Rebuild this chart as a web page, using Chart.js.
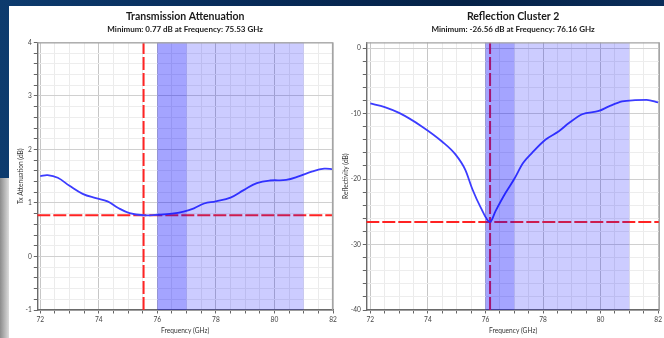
<!DOCTYPE html>
<html><head><meta charset="utf-8">
<script src="https://cdn.jsdelivr.net/npm/chart.js@4.4.1/dist/chart.umd.min.js"></script>
<style>
html,body{margin:0;padding:0;}
body{width:664px;height:338px;overflow:hidden;position:relative;background:linear-gradient(90deg,#0d3b6e 0%,#072a57 40%,#052247 70%,#0a2d5a 100%);}
#strip{position:absolute;left:0;top:178px;width:9px;height:160px;background:linear-gradient(90deg,#8c8c8c,#dcdcdc);}
#panel{position:absolute;left:9px;top:6px;width:655px;height:332px;background:#fff;}
#c1{position:absolute;left:9px;top:6px;}
#c2{position:absolute;left:340px;top:6px;}
</style></head>
<body>
<div id="strip"></div>
<div id="panel"></div>
<canvas id="c1" width="331" height="332"></canvas>
<canvas id="c2" width="324" height="332"></canvas>
<script>
// ---- data ----
const txFreq = [72.0, 72.25, 72.6, 73.0, 73.45, 73.9, 74.3, 74.65, 75.05, 75.53, 76.0, 76.5, 76.9, 77.25, 77.6, 78.0, 78.5, 78.95, 79.4, 79.85, 80.4, 80.85, 81.3, 81.7, 82.0];
const txVal  = [1.50, 1.52, 1.47, 1.32, 1.17, 1.09, 1.03, 0.91, 0.81, 0.77, 0.78, 0.80, 0.84, 0.90, 0.99, 1.03, 1.10, 1.24, 1.37, 1.42, 1.43, 1.50, 1.59, 1.64, 1.63];
const rcFreq = [72.0, 72.5, 73.0, 73.8, 74.5, 74.95, 75.3, 75.55, 75.82, 76.16, 76.35, 76.7, 77.0, 77.3, 77.62, 78.08, 78.55, 78.9, 79.36, 79.94, 80.29, 80.75, 81.2, 81.6, 82.0];
const rcVal  = [-8.46, -9.0, -9.9, -12.0, -14.3, -16.2, -18.6, -21.6, -24.2, -26.56, -24.9, -22.1, -20.0, -17.6, -16.0, -14.0, -12.7, -11.45, -10.1, -9.6, -8.9, -8.15, -7.95, -7.9, -8.3];
const txMinVal = 0.77, txMinFreq = 75.53;
const rcMinVal = -26.56, rcMinFreq = 76.16;
const bandStart = [76, 76];
const bandEnd   = [77, 81];
const xTickLabels = [72, 74, 76, 78, 80, 82];
const txTickLabels = [-1, 0, 1, 2, 3, 4];
const rcTickLabels = [-40, -30, -20, -10, 0];

const FONT = "Lato, 'Open Sans', sans-serif";

function range(a, b, step) {
  const out = [];
  for (let i = 0; a + i * step <= b + 1e-9; i++) out.push(Math.round((a + i * step) * 100) / 100);
  return out;
}

const overlay = {
  id: 'overlay',
  afterDatasetsDraw(chart) {
    const {ctx, chartArea: a, scales: {x}} = chart;
    ctx.save();
    ctx.beginPath(); ctx.rect(a.left, a.top, a.right - a.left, a.bottom - a.top); ctx.clip();
    ctx.fillStyle = 'rgba(0,0,255,0.2)';
    for (let i = 0; i < bandStart.length; i++) {
      const x0 = x.getPixelForValue(bandStart[i]), x1 = x.getPixelForValue(bandEnd[i]);
      ctx.fillRect(x0, a.top, x1 - x0, a.bottom - a.top);
    }
    ctx.restore();
    ctx.save();
    ctx.strokeStyle = '#a4a4a4'; ctx.lineWidth = 1.2;
    ctx.beginPath();
    ctx.moveTo(a.left, a.top + 0.5); ctx.lineTo(a.right - 0.5, a.top + 0.5); ctx.lineTo(a.right - 0.5, a.bottom);
    ctx.stroke();
    ctx.restore();
  }
};

function makeChart(el, cfg) {
  const xMajor = xTickLabels;
  const yMajor = cfg.yLabels;
  const curve = { data: cfg.fx.map((f, i) => ({x: f, y: cfg.fy[i]})), showLine: true, borderColor: '#3c3cff', borderWidth: 1.8,
          pointRadius: 0, fill: false };
  if (cfg.mono) curve.cubicInterpolationMode = 'monotone'; else curve.tension = 0.4;
  return new Chart(el, {
    type: 'scatter',
    data: {
      datasets: [
        curve,
        { data: [{x: cfg.minF, y: cfg.yMin}, {x: cfg.minF, y: cfg.yMax}], showLine: true, borderColor: '#ff2323',
          borderWidth: 2, borderDash: [13, 3], pointRadius: 0, fill: false },
        { data: [{x: cfg.xMin, y: cfg.minV}, {x: cfg.xMax, y: cfg.minV}], showLine: true, borderColor: '#ff2323',
          borderWidth: 2, borderDash: [13, 3], pointRadius: 0, fill: false }
      ]
    },
    options: {
      responsive: false, animation: false, devicePixelRatio: 1,
      layout: { padding: { left: 0, right: cfg.padR, top: 0, bottom: 0 } },
      plugins: {
        legend: { display: false }, tooltip: { enabled: false },
        title: { display: true, text: cfg.title, fullSize: false, color: '#1a1a1a',
          font: { family: FONT, size: 10.5, weight: 'bold', lineHeight: 1.2 }, padding: { top: 4, bottom: 1 } },
        subtitle: { display: true, text: `Minimum: ${cfg.minV.toFixed(2)} dB at Frequency: ${cfg.minF.toFixed(2)} GHz`,
          fullSize: false, color: '#1a1a1a',
          font: { family: FONT, size: 8, weight: 'bold', lineHeight: 1.2 }, padding: { top: 0.6, bottom: 8.6 } }
      },
      scales: {
        x: {
          type: 'linear', min: cfg.xMin, max: cfg.xMax,
          afterBuildTicks: s => { s.ticks = range(72, 82, 0.5).map(v => ({value: v})); },
          afterFit: s => { s.height = 28; },
          ticks: { autoSkip: false, maxRotation: 0, padding: 2, color: '#444',
            font: { family: FONT, size: 6.6 },
            callback: v => xMajor.includes(v) ? String(v) : '' },
          grid: { color: c => (c.tick && xMajor.includes(c.tick.value)) ? '#c6c6c6' : '#ebebeb',
            tickColor: '#666', tickLength: 3.5, lineWidth: 1 },
          border: { color: '#6a6a6a', width: 1.4 },
          title: { display: true, text: 'Frequency (GHz)', color: '#333',
            font: { family: FONT, size: 6.6, lineHeight: 1.2 }, padding: { top: 0, bottom: 3.4 } }
        },
        y: {
          type: 'linear', min: cfg.yMin, max: cfg.yMax,
          afterBuildTicks: s => { s.ticks = range(cfg.yLabels[0], cfg.yLabels[cfg.yLabels.length - 1], cfg.yMinor).map(v => ({value: v})); },
          afterFit: s => { s.width = cfg.yW; },
          ticks: { autoSkip: false, padding: 2, color: '#444', font: { family: FONT, size: 6.6 },
            callback: v => yMajor.includes(v) ? String(v) : '' },
          grid: { color: c => (c.tick && yMajor.includes(c.tick.value)) ? '#d0d0d0' : '#ededed',
            tickColor: '#666', tickLength: 3.5, lineWidth: 1 },
          border: { color: '#6a6a6a', width: 1.4 },
          title: { display: true, text: cfg.yTitle, color: '#333',
            font: { family: FONT, size: 6.6, lineHeight: 1.2 }, padding: { top: cfg.yTitlePad, bottom: 0 } }
        }
      }
    },
    plugins: [overlay]
  });
}

makeChart(document.getElementById('c1'), {
  title: 'Transmission Attenuation', fx: txFreq, fy: txVal, minF: txMinFreq, minV: txMinVal,
  xMin: 71.9, xMax: 82.0, yMin: -1, yMax: 4, yLabels: txTickLabels, yMinor: 0.2,
  yTitle: 'Tx Attenuation (dB)', yW: 28.3, yTitlePad: 8.3, padR: 7, mono: false
});
makeChart(document.getElementById('c2'), {
  title: 'Reflection Cluster 2', fx: rcFreq, fy: rcVal, minF: rcMinFreq, minV: rcMinVal,
  xMin: 71.86, xMax: 82.06, yMin: -40, yMax: 0.87, yLabels: rcTickLabels, yMinor: 2,
  yTitle: 'Reflectivity (dB)', yW: 26.3, yTitlePad: 1.5, padR: 3, mono: true
});
</script>
</body></html>
